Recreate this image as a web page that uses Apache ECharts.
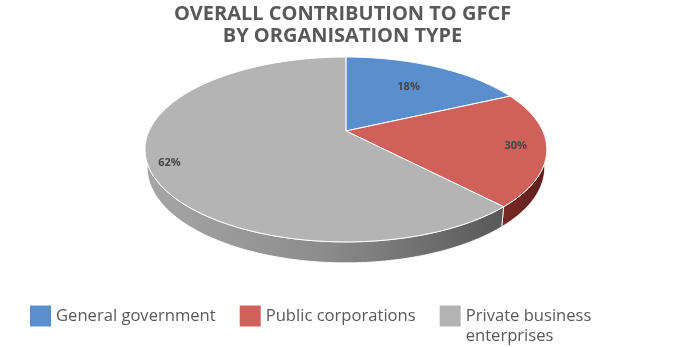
<!DOCTYPE html>
<html><head><meta charset="utf-8">
<script src="https://cdn.jsdelivr.net/npm/echarts@6/dist/echarts.min.js"></script>
<style>html,body{margin:0;padding:0;background:#fff}#main{width:685px;height:347px}</style>
</head><body><div id="main"></div>
<script>
// ---- data ----
const categories = ['General government', 'Public corporations', 'Private business enterprises'];
const shareValues = [18, 20, 62];            // slice sizes
const labelTexts = ['18%', '30%', '62%'];    // data labels as printed in the picture
const titleText = 'OVERALL CONTRIBUTION TO GFCF\nBY ORGANISATION TYPE';

// ---- style ----
const topColors = ['#5a8fcf', '#d0605a', '#b4b4b4'];
const wallStops = [
  [['#3f6a9c', 0], ['#2d4e75', 1]],
  [['#7a2a26', 0], ['#5c1e1b', 1]],
  [['#a6a6a6', 0], ['#8c8c8c', 0.5], ['#585858', 1]]
];
const labelRadius = [0.66, 0.85, 0.9];
const view = { cx: 0.505, cy: 0.3775, k: 1.283, alpha: 26.8 * Math.PI / 180, D: 4.465, H: 0.103 };

const total = shareValues.reduce((a, b) => a + b, 0);
const cum = []; let acc = 0; shareValues.forEach(v => { cum.push(acc); acc += v; });

function project(theta, r, h, W, Hh) {
  const x3 = r * Math.sin(theta), z3 = -r * Math.cos(theta), y3 = h;
  const sa = Math.sin(view.alpha), ca = Math.cos(view.alpha);
  const v = z3 * sa - y3 * ca;
  const d = view.D - z3 * ca - y3 * sa;
  const k = view.k * W;
  return [view.cx * W + k * x3 / d, view.cy * Hh + k * v / d];
}

function renderSlice(idx) {
  return function (params, api) {
    const W = api.getWidth(), Hh = api.getHeight();
    const val = api.value(0);
    const a0 = cum[idx] / total * 2 * Math.PI;
    const a1 = (cum[idx] + val) / total * 2 * Math.PI;
    const step = Math.PI / 180;
    const children = [];
    const w0 = Math.max(a0, Math.PI / 2), w1 = Math.min(a1, 3 * Math.PI / 2);
    if (w1 > w0) {
      const m = Math.max(2, Math.ceil((w1 - w0) / step));
      const top = [], bot = [];
      for (let i = 0; i <= m; i++) {
        const t = w0 + (w1 - w0) * i / m;
        top.push(project(t, 1, 0, W, Hh));
        bot.push(project(t, 1, -view.H, W, Hh));
      }
      const pts = top.concat(bot.reverse());
      const stops = wallStops[idx].map(s => ({ offset: s[1], color: s[0] }));
      children.push({
        type: 'polygon', z2: 10,
        shape: { points: pts },
        style: { fill: new echarts.graphic.LinearGradient(0, 0, 1, 0, stops), stroke: 'rgba(255,255,255,0.85)', lineWidth: 1 }
      });
    }
    const tp = [project(0, 0, 0, W, Hh)];
    const n = Math.max(2, Math.ceil((a1 - a0) / step));
    for (let i = 0; i <= n; i++) tp.push(project(a0 + (a1 - a0) * i / n, 1, 0, W, Hh));
    children.push({
      type: 'polygon', z2: 100,
      shape: { points: tp },
      style: { fill: topColors[idx], stroke: '#ffffff', lineWidth: 1, lineJoin: 'round' }
    });
    const mid = (a0 + a1) / 2;
    const lp = project(mid, labelRadius[idx], 0, W, Hh);
    children.push({
      type: 'text', z2: 200,
      style: {
        text: labelTexts[idx], x: lp[0], y: lp[1],
        fill: '#454545', font: 'bold 11px "Open Sans"',
        align: 'center', verticalAlign: 'middle'
      }
    });
    return { type: 'group', children };
  };
}

const chart = echarts.init(document.getElementById('main'), null, { renderer: 'canvas' });
chart.setOption({
  animation: false,
  backgroundColor: '#ffffff',
  title: {
    text: titleText, left: 'center', top: 3, padding: 0,
    textStyle: { fontFamily: 'Open Sans', fontWeight: 'bold', fontSize: 20, lineHeight: 22, color: '#595959' }
  },
  legend: {
    left: 30, top: 286, orient: 'horizontal', padding: 0,
    itemWidth: 21, itemHeight: 21, itemGap: 24, icon: 'rect',
    selectedMode: false,
    textStyle: { fontFamily: 'Open Sans', fontSize: 16.6, lineHeight: 20, color: '#595959' },
    formatter: name => name.indexOf(' enterprises') > 0 ? '\n' + name.replace(' enterprises', '\nenterprises') : name,
    data: categories.slice()
  },
  series: categories.map((name, idx) => ({
    type: 'custom', name, coordinateSystem: 'none', silent: true,
    itemStyle: { color: topColors[idx] },
    renderItem: renderSlice(idx),
    data: [shareValues[idx]]
  }))
});
</script></body></html>
